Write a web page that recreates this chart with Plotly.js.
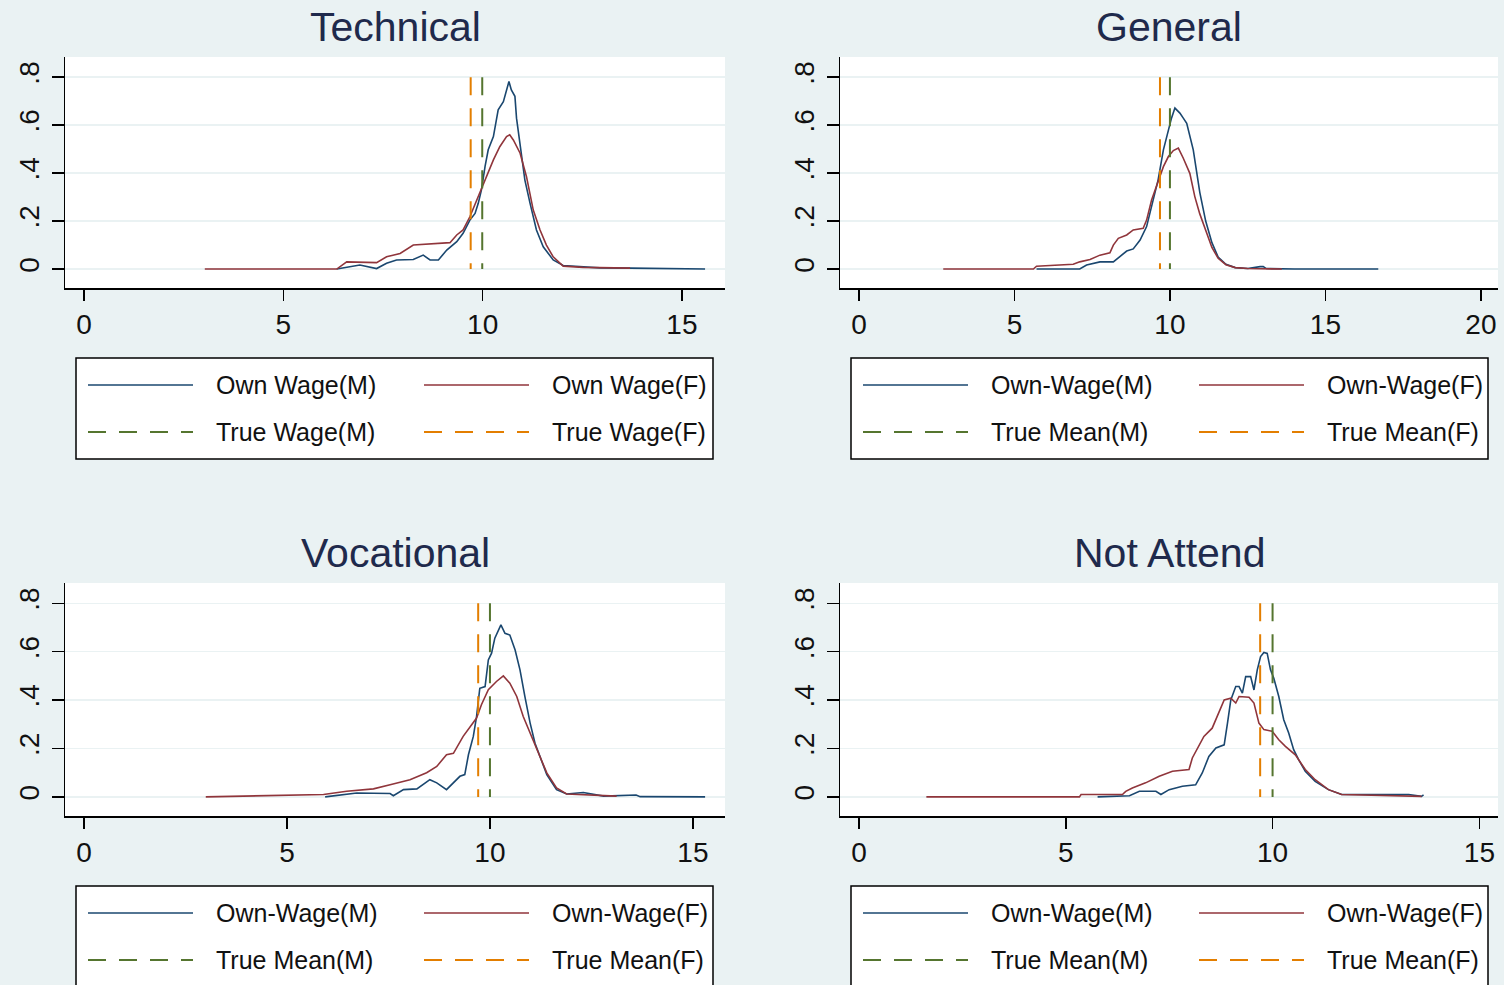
<!DOCTYPE html>
<html>
<head>
<meta charset="utf-8">
<script src="https://cdn.plot.ly/plotly-3.0.1.min.js"></script>
<style>html,body{margin:0;padding:0;background:#EAF2F3;}#chart{width:1504px;height:985px;}</style>
</head>
<body>
<div id="chart"></div>
<script>
// ---------------- data ----------------
const panelTitles = ['Technical', 'General', 'Vocational', 'Not Attend'];
const legendLabels1 = ['Own Wage(M)', 'Own Wage(F)', 'True Wage(M)', 'True Wage(F)'];
const legendLabels2 = ['Own-Wage(M)', 'Own-Wage(F)', 'True Mean(M)', 'True Mean(F)'];
const yTickVals = [0, 0.2, 0.4, 0.6, 0.8];
const yTickText = ['0', '.2', '.4', '.6', '.8'];
const xTicks15 = [0, 5, 10, 15];
const xTicks20 = [0, 5, 10, 15, 20];

// Technical
const techMx = [6.34, 6.92, 7.34, 7.59, 7.84, 8.26, 8.51, 8.68, 8.89, 9.1, 9.35, 9.51, 9.68, 9.81, 9.89, 9.97, 10.06, 10.14, 10.27, 10.39, 10.52, 10.6, 10.66, 10.72, 10.81, 10.85, 10.94, 11.06, 11.19, 11.35, 11.52, 11.77, 12.02, 12.94, 13.7, 15.58];
const techMy = [0, 0.017, 0.002, 0.024, 0.038, 0.04, 0.058, 0.038, 0.038, 0.079, 0.114, 0.149, 0.204, 0.232, 0.274, 0.33, 0.427, 0.497, 0.552, 0.664, 0.698, 0.74, 0.782, 0.747, 0.72, 0.629, 0.51, 0.371, 0.274, 0.163, 0.093, 0.038, 0.015, 0.005, 0.004, 0];
const techFx = [3.03, 6.34, 6.59, 7.34, 7.59, 7.93, 8.26, 8.76, 9.18, 9.35, 9.51, 9.68, 9.85, 9.97, 10.1, 10.27, 10.43, 10.6, 10.68, 10.77, 10.94, 11.1, 11.27, 11.44, 11.6, 11.77, 12.02, 12.52, 13.7];
const techFy = [0, 0, 0.03, 0.027, 0.051, 0.065, 0.1, 0.104, 0.11, 0.142, 0.163, 0.218, 0.288, 0.337, 0.385, 0.455, 0.51, 0.552, 0.56, 0.538, 0.483, 0.385, 0.246, 0.163, 0.1, 0.051, 0.012, 0.007, 0.004];
const techMeanM = 9.99, techMeanF = 9.70;

// General
const genMx = [5.71, 7.1, 7.32, 7.75, 8.18, 8.39, 8.61, 8.82, 9.04, 9.25, 9.46, 9.62, 9.79, 9.95, 10.05, 10.16, 10.32, 10.43, 10.54, 10.75, 10.96, 11.15, 11.35, 11.55, 11.8, 12.1, 12.5, 12.9, 13.0, 13.1, 14.0, 16.7];
const genMy = [0, 0, 0.017, 0.03, 0.03, 0.051, 0.075, 0.084, 0.121, 0.177, 0.288, 0.372, 0.497, 0.58, 0.629, 0.671, 0.65, 0.629, 0.608, 0.497, 0.32, 0.2, 0.11, 0.05, 0.02, 0.006, 0.002, 0.01, 0.01, 0.002, 0, 0];
const genFx = [2.71, 5.61, 5.71, 6.89, 7.1, 7.43, 7.75, 8.07, 8.18, 8.34, 8.61, 8.82, 9.14, 9.25, 9.41, 9.62, 9.79, 9.95, 10.11, 10.27, 10.43, 10.64, 10.8, 10.96, 11.15, 11.35, 11.55, 11.8, 12.1, 12.5, 13.6];
const genFy = [0, 0, 0.012, 0.02, 0.03, 0.04, 0.058, 0.068, 0.1, 0.128, 0.142, 0.163, 0.17, 0.204, 0.288, 0.365, 0.427, 0.469, 0.494, 0.504, 0.462, 0.399, 0.302, 0.23, 0.16, 0.09, 0.045, 0.018, 0.006, 0.002, 0];
const genMeanM = 10.0, genMeanF = 9.68;

// Vocational
const vocMx = [5.94, 6.72, 7.54, 7.62, 7.87, 8.2, 8.52, 8.69, 8.93, 9.1, 9.26, 9.38, 9.47, 9.59, 9.67, 9.75, 9.88, 9.96, 10.04, 10.12, 10.2, 10.27, 10.37, 10.49, 10.62, 10.74, 10.86, 10.99, 11.11, 11.23, 11.4, 11.64, 11.89, 12.3, 12.55, 12.8, 13.6, 13.7, 15.3];
const vocMy = [0, 0.016, 0.014, 0.005, 0.03, 0.033, 0.071, 0.058, 0.03, 0.058, 0.085, 0.092, 0.174, 0.25, 0.332, 0.449, 0.456, 0.566, 0.594, 0.656, 0.683, 0.711, 0.676, 0.669, 0.607, 0.525, 0.415, 0.305, 0.222, 0.167, 0.092, 0.03, 0.012, 0.018, 0.012, 0.003, 0.008, 0.001, 0];
const vocFx = [3.0, 5.9, 6.47, 7.13, 7.54, 8.03, 8.44, 8.69, 8.93, 9.1, 9.34, 9.51, 9.67, 9.79, 9.96, 10.16, 10.33, 10.49, 10.66, 10.82, 10.99, 11.15, 11.4, 11.64, 11.89, 13.12];
const vocFy = [0, 0.01, 0.023, 0.033, 0.05, 0.071, 0.1, 0.126, 0.174, 0.18, 0.25, 0.291, 0.326, 0.381, 0.443, 0.477, 0.5, 0.47, 0.415, 0.332, 0.264, 0.195, 0.099, 0.037, 0.012, 0.003];
const vocMeanM = 10.0, vocMeanF = 9.71;

// Not Attend
const naMx = [5.77, 6.54, 6.78, 7.18, 7.3, 7.5, 7.82, 8.14, 8.3, 8.46, 8.63, 8.83, 8.91, 8.99, 9.11, 9.19, 9.27, 9.35, 9.47, 9.55, 9.63, 9.71, 9.79, 9.87, 9.95, 10.03, 10.15, 10.27, 10.39, 10.51, 10.63, 10.79, 11.03, 11.35, 11.67, 13.29, 13.6, 13.65];
const naMy = [0, 0.005, 0.023, 0.023, 0.01, 0.03, 0.044, 0.05, 0.099, 0.167, 0.202, 0.215, 0.305, 0.401, 0.456, 0.456, 0.429, 0.497, 0.497, 0.442, 0.525, 0.58, 0.597, 0.593, 0.525, 0.49, 0.415, 0.319, 0.264, 0.195, 0.154, 0.106, 0.064, 0.03, 0.01, 0.01, 0.002, 0.008];
const naFx = [1.63, 5.33, 5.37, 6.37, 6.45, 6.61, 6.93, 7.26, 7.58, 7.98, 8.06, 8.22, 8.34, 8.54, 8.71, 8.83, 8.99, 9.11, 9.19, 9.43, 9.55, 9.67, 9.79, 9.99, 10.15, 10.31, 10.55, 10.79, 11.03, 11.35, 11.67, 13.6];
const naFy = [0, 0, 0.01, 0.01, 0.023, 0.037, 0.058, 0.085, 0.106, 0.113, 0.161, 0.209, 0.25, 0.284, 0.353, 0.401, 0.408, 0.388, 0.415, 0.412, 0.388, 0.305, 0.278, 0.271, 0.236, 0.209, 0.174, 0.113, 0.071, 0.03, 0.01, 0.002];
const naMeanM = 10.0, naMeanF = 9.70;

const meanLineY = [0.8, 0];

// ---------------- styling ----------------
const W = 1504, H = 985;
const C_M = '#1A476F', C_F = '#90353B', C_TM = '#55752F', C_TF = '#E37E00';
const BG = '#EAF2F3';
const FONT = '"Liberation Sans", Arial, sans-serif';
const DASH = '18px,13px';
const px = v => v / W;
const py = v => 1 - v / H;

const panels = [
  {title: panelTitles[0], labels: legendLabels1, mx: techMx, my: techMy, fx: techFx, fy: techFy, mM: techMeanM, mF: techMeanF,
   xr: [-0.477, 16.08], xt: xTicks15, box: [65, 725, 57, 288], dx: 0, dy: 0},
  {title: panelTitles[1], labels: legendLabels2, mx: genMx, my: genMy, fx: genFx, fy: genFy, mM: genMeanM, mF: genMeanF,
   xr: [-0.61, 20.55], xt: xTicks20, box: [840, 1498, 57, 288], dx: 775, dy: 0},
  {title: panelTitles[2], labels: legendLabels2, mx: vocMx, my: vocMy, fx: vocFx, fy: vocFy, mM: vocMeanM, mF: vocMeanF,
   xr: [-0.468, 15.79], xt: xTicks15, box: [65, 725, 583, 816], dx: 0, dy: 528},
  {title: panelTitles[3], labels: legendLabels2, mx: naMx, my: naMy, fx: naFx, fy: naFy, mM: naMeanM, mF: naMeanF,
   xr: [-0.458, 15.45], xt: xTicks15, box: [840, 1498, 583, 816], dx: 775, dy: 528}
];

const data = [];
const layout = {
  width: W, height: H,
  margin: {l: 0, r: 0, t: 0, b: 0},
  paper_bgcolor: BG, plot_bgcolor: '#FFFFFF',
  showlegend: false,
  font: {family: FONT, color: '#111111'},
  shapes: [], annotations: []
};

panels.forEach((p, i) => {
  const n = i + 1;
  const xa = 'x' + (n === 1 ? '' : n), ya = 'y' + (n === 1 ? '' : n);
  data.push({x: p.mx, y: p.my, xaxis: xa, yaxis: ya, type: 'scatter', mode: 'lines',
             line: {color: C_M, width: 1.6}, hoverinfo: 'skip'});
  data.push({x: p.fx, y: p.fy, xaxis: xa, yaxis: ya, type: 'scatter', mode: 'lines',
             line: {color: C_F, width: 1.6}, hoverinfo: 'skip'});
  data.push({x: [p.mM, p.mM], y: meanLineY, xaxis: xa, yaxis: ya, type: 'scatter', mode: 'lines',
             line: {color: C_TM, width: 2, dash: DASH}, hoverinfo: 'skip'});
  data.push({x: [p.mF, p.mF], y: meanLineY, xaxis: xa, yaxis: ya, type: 'scatter', mode: 'lines',
             line: {color: C_TF, width: 2, dash: DASH}, hoverinfo: 'skip'});

  const [x0, x1, y0, y1] = p.box;
  layout['xaxis' + (n === 1 ? '' : n)] = {
    domain: [px(x0), px(x1)], anchor: ya, range: p.xr,
    tickvals: p.xt, ticktext: p.xt.map(String),
    showgrid: false, zeroline: false,
    showline: true, linecolor: '#000', linewidth: 1.5,
    ticks: 'outside', ticklen: 11, tickwidth: 1.5, tickcolor: '#000',
    tickfont: {size: 28, family: FONT, color: '#111'}, ticklabelstandoff: 0
  };
  layout['yaxis' + (n === 1 ? '' : n)] = {
    domain: [py(y1), py(y0)], anchor: xa, range: [-0.079, 0.884],
    tickvals: yTickVals, ticktext: yTickText, tickangle: -90,
    showgrid: true, gridcolor: BG, gridwidth: 1.5, zeroline: false,
    showline: true, linecolor: '#000', linewidth: 1.5,
    ticks: 'outside', ticklen: 12, tickwidth: 1.5, tickcolor: '#000',
    tickfont: {size: 28, family: FONT, color: '#111'}, ticklabelstandoff: 1
  };

  // panel title
  layout.annotations.push({xref: 'paper', yref: 'paper', x: px((x0 + x1) / 2), y: py(y0 - 30),
    xanchor: 'center', yanchor: 'middle', showarrow: false, text: p.title,
    font: {size: 41, family: FONT, color: '#1F2A4C'}});

  // legend box
  const bx0 = 76 + p.dx, bx1 = 713 + p.dx, by0 = 358 + p.dy, by1 = 459 + p.dy;
  layout.shapes.push({type: 'rect', xref: 'paper', yref: 'paper',
    x0: px(bx0), x1: px(bx1), y0: py(by0), y1: py(Math.min(by1, H + 20)),
    fillcolor: '#FFFFFF', line: {color: '#000', width: 1.5}, layer: 'below'});
  const rows = [385 + p.dy, 432 + p.dy];
  const sampleX = [[88 + p.dx, 193 + p.dx], [424 + p.dx, 529 + p.dx]];
  const textX = [214 + p.dx, 550 + p.dx];
  const styles = [
    {color: C_M, width: 1.6, dash: 'solid'}, {color: C_F, width: 1.6, dash: 'solid'},
    {color: C_TM, width: 2, dash: DASH}, {color: C_TF, width: 2, dash: DASH}
  ];
  for (let k = 0; k < 4; k++) {
    const r = Math.floor(k / 2), c = k % 2;
    layout.shapes.push({type: 'line', xref: 'paper', yref: 'paper',
      x0: px(sampleX[c][0]), x1: px(sampleX[c][1]), y0: py(rows[r]), y1: py(rows[r]),
      line: styles[k]});
    layout.annotations.push({xref: 'paper', yref: 'paper', x: px(textX[c]), y: py(rows[r]),
      xanchor: 'left', yanchor: 'middle', showarrow: false, text: p.labels[k],
      font: {size: 25, family: FONT, color: '#111'}});
  }
});

Plotly.newPlot('chart', data, layout, {displayModeBar: false, staticPlot: true});
</script>
</body>
</html>
